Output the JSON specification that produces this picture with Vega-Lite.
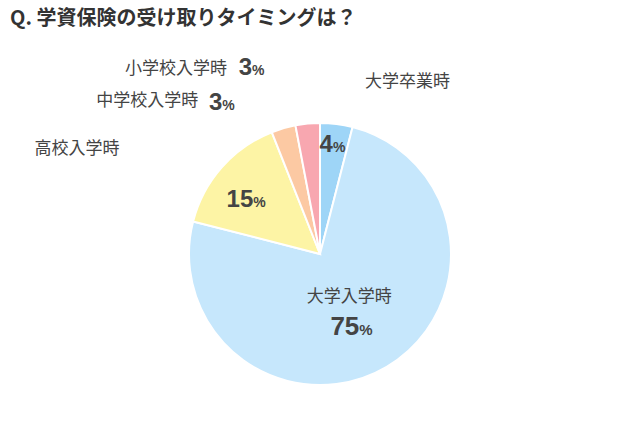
{
  "$schema": "https://vega.github.io/schema/vega-lite/v6.json",
  "width": 640,
  "height": 440,
  "padding": {"top": 9, "left": 0, "right": 0, "bottom": 0},
  "background": "white",
  "config": {"view": {"stroke": null}},
  "title": {
    "text": "Q. 学資保険の受け取りタイミングは？",
    "anchor": "start",
    "dx": 10,
    "offset": 5,
    "font": "Noto Sans CJK JP",
    "fontSize": 20,
    "fontWeight": "bold",
    "color": "#333333"
  },
  "data": {
    "values": [
      {"cat": "大学卒業時", "value": 4, "order": 1},
      {"cat": "大学入学時", "value": 75, "order": 2},
      {"cat": "高校入学時", "value": 15, "order": 3},
      {"cat": "中学校入学時", "value": 3, "order": 4},
      {"cat": "小学校入学時", "value": 3, "order": 5}
    ]
  },
  "encoding": {
    "theta": {"field": "value", "type": "quantitative", "stack": true},
    "order": {"field": "order", "type": "quantitative"}
  },
  "layer": [
    {
      "mark": {"type": "arc", "outerRadius": 131, "stroke": "white", "strokeWidth": 2},
      "encoding": {
        "color": {
          "field": "cat", "type": "nominal", "legend": null,
          "scale": {
            "domain": ["大学卒業時", "大学入学時", "高校入学時", "中学校入学時", "小学校入学時"],
            "range": ["#9ed5f7", "#c6e7fc", "#fdf4a5", "#fcc9a3", "#f8a7b0"]
          }
        }
      }
    },
    {"mark": {"type": "text", "radius": 103, "dx": 0, "dy": 0, "align": "right", "baseline": "alphabetic", "font": "Liberation Sans", "fontWeight": "bold", "fontSize": 24, "fill": "#444444"},
     "encoding": {"text": {"condition": {"test": "datum.cat === '大学卒業時'", "field": "value"}, "value": ""}}},
    {"mark": {"type": "text", "radius": 103, "dx": 0, "dy": 0, "align": "left", "baseline": "alphabetic", "font": "Liberation Sans", "fontWeight": "bold", "fontSize": 14, "fill": "#444444"},
     "encoding": {"text": {"condition": {"test": "datum.cat === '大学卒業時'", "value": "%"}, "value": ""}}},
    {"mark": {"type": "text", "radius": 176, "dx": 23, "dy": 3, "align": "left", "baseline": "middle", "font": "Noto Sans CJK JP", "fontSize": 17, "fill": "#444444"},
     "encoding": {"text": {"condition": {"test": "datum.cat === '大学卒業時'", "field": "cat"}, "value": ""}}},

    {"mark": {"type": "text", "radius": 89, "dx": -6, "dy": 4, "align": "right", "baseline": "alphabetic", "font": "Liberation Sans", "fontWeight": "bold", "fontSize": 26, "fill": "#444444"},
     "encoding": {"text": {"condition": {"test": "datum.cat === '大学入学時'", "field": "value"}, "value": ""}}},
    {"mark": {"type": "text", "radius": 89, "dx": -6, "dy": 4, "align": "left", "baseline": "alphabetic", "font": "Liberation Sans", "fontWeight": "bold", "fontSize": 15, "fill": "#444444"},
     "encoding": {"text": {"condition": {"test": "datum.cat === '大学入学時'", "value": "%"}, "value": ""}}},
    {"mark": {"type": "text", "radius": 89, "dx": -16, "dy": -34, "align": "center", "baseline": "middle", "font": "Noto Sans CJK JP", "fontSize": 17, "fill": "#444444"},
     "encoding": {"text": {"condition": {"test": "datum.cat === '大学入学時'", "field": "cat"}, "value": ""}}},

    {"mark": {"type": "text", "radius": 81, "dx": -6, "dy": 7, "align": "right", "baseline": "alphabetic", "font": "Liberation Sans", "fontWeight": "bold", "fontSize": 24, "fill": "#444444"},
     "encoding": {"text": {"condition": {"test": "datum.cat === '高校入学時'", "field": "value"}, "value": ""}}},
    {"mark": {"type": "text", "radius": 81, "dx": -6, "dy": 7, "align": "left", "baseline": "alphabetic", "font": "Liberation Sans", "fontWeight": "bold", "fontSize": 14, "fill": "#444444"},
     "encoding": {"text": {"condition": {"test": "datum.cat === '高校入学時'", "value": "%"}, "value": ""}}},
    {"mark": {"type": "text", "radius": 150, "dx": -88, "dy": -6, "align": "right", "baseline": "middle", "font": "Noto Sans CJK JP", "fontSize": 17, "fill": "#444444"},
     "encoding": {"text": {"condition": {"test": "datum.cat === '高校入学時'", "field": "cat"}, "value": ""}}},

    {"mark": {"type": "text", "radius": 160, "dx": -53, "dy": 10, "align": "right", "baseline": "alphabetic", "font": "Liberation Sans", "fontWeight": "bold", "fontSize": 24, "fill": "#444444"},
     "encoding": {"text": {"condition": {"test": "datum.cat === '中学校入学時'", "field": "value"}, "value": ""}}},
    {"mark": {"type": "text", "radius": 160, "dx": -53, "dy": 10, "align": "left", "baseline": "alphabetic", "font": "Liberation Sans", "fontWeight": "bold", "fontSize": 14, "fill": "#444444"},
     "encoding": {"text": {"condition": {"test": "datum.cat === '中学校入学時'", "value": "%"}, "value": ""}}},
    {"mark": {"type": "text", "radius": 160, "dx": -77, "dy": 1, "align": "right", "baseline": "middle", "font": "Noto Sans CJK JP", "fontSize": 17, "fill": "#444444"},
     "encoding": {"text": {"condition": {"test": "datum.cat === '中学校入学時'", "field": "cat"}, "value": ""}}},

    {"mark": {"type": "text", "radius": 180, "dx": -51, "dy": 0, "align": "right", "baseline": "alphabetic", "font": "Liberation Sans", "fontWeight": "bold", "fontSize": 24, "fill": "#444444"},
     "encoding": {"text": {"condition": {"test": "datum.cat === '小学校入学時'", "field": "value"}, "value": ""}}},
    {"mark": {"type": "text", "radius": 180, "dx": -51, "dy": 0, "align": "left", "baseline": "alphabetic", "font": "Liberation Sans", "fontWeight": "bold", "fontSize": 14, "fill": "#444444"},
     "encoding": {"text": {"condition": {"test": "datum.cat === '小学校入学時'", "value": "%"}, "value": ""}}},
    {"mark": {"type": "text", "radius": 180, "dx": -76, "dy": -6, "align": "right", "baseline": "middle", "font": "Noto Sans CJK JP", "fontSize": 17, "fill": "#444444"},
     "encoding": {"text": {"condition": {"test": "datum.cat === '小学校入学時'", "field": "cat"}, "value": ""}}}
  ]
}
